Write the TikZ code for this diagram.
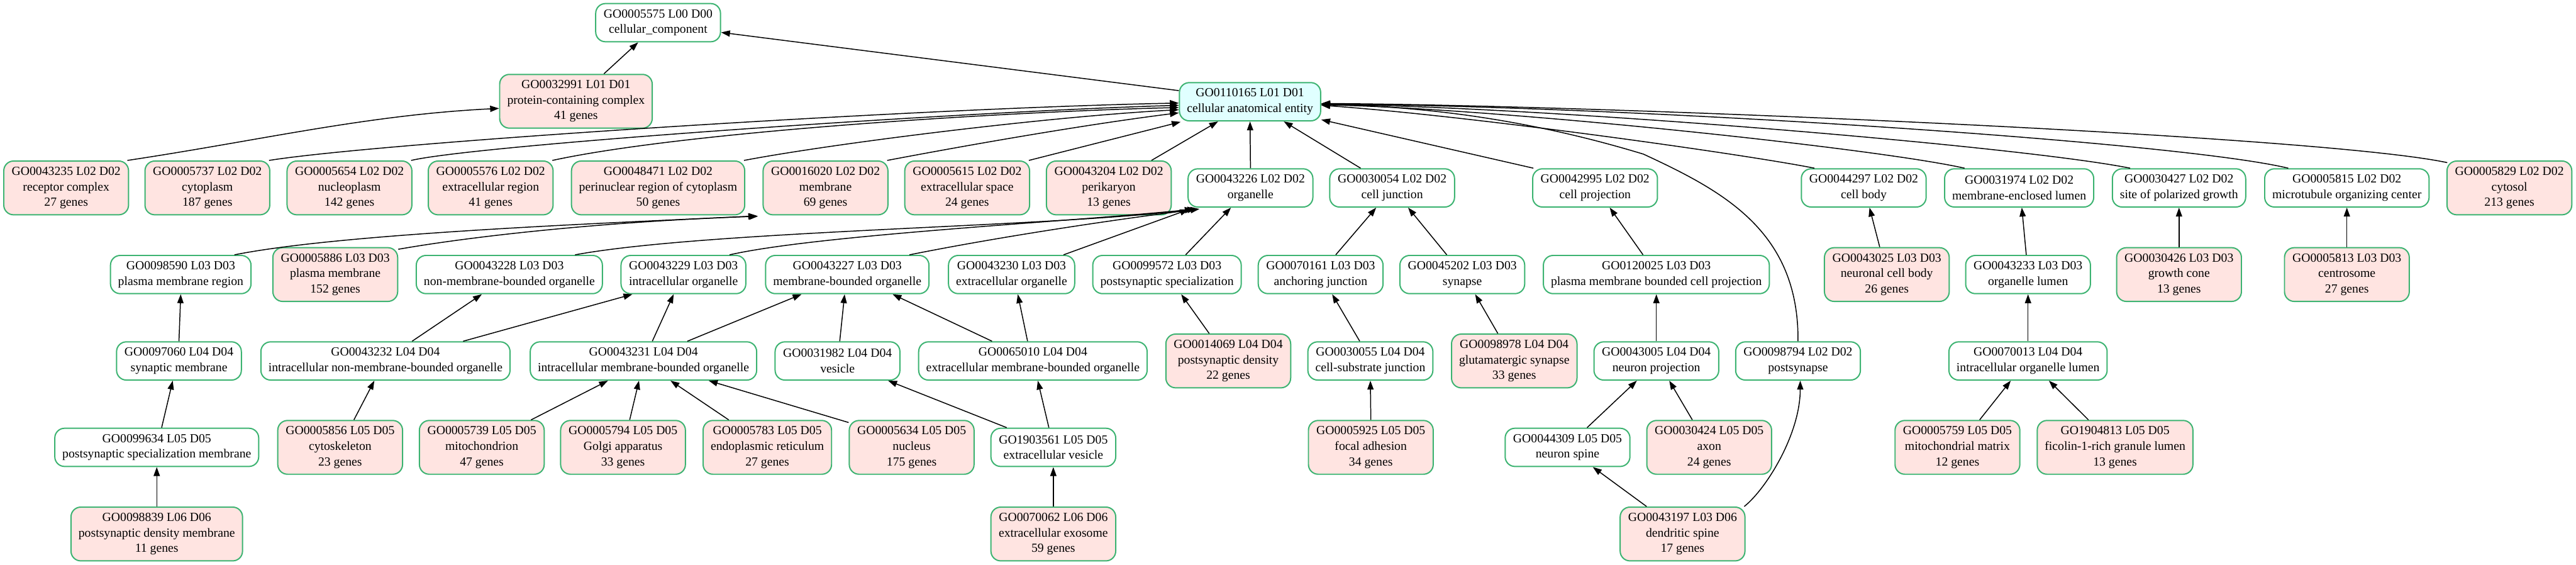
\documentclass[tikz,border=0pt]{standalone}
\usepackage{fontspec}
\setmainfont{Liberation Serif}
\usetikzlibrary{arrows.meta}
\definecolor{gogreen}{RGB}{60,179,113}
\definecolor{gopink}{RGB}{255,228,225}
\definecolor{gocyan}{RGB}{224,255,255}
\newcommand\gofont{\fontsize{7.95}{9.9}\selectfont}
\tikzset{
  gobox/.style={draw=gogreen, line width=0.8pt, rounded corners=0.22cm, align=center,
     inner xsep=0.17cm, inner ysep=0pt, minimum width=2.81cm, font=\gofont},
  twoline/.style={gobox, fill=white, minimum height=0.86cm},
  threeline/.style={gobox, fill=gopink, minimum height=1.21cm},
  rootbox/.style={gobox, fill=gocyan, minimum height=0.86cm},
  edge/.style={line width=0.6pt, -{Triangle[length=0.2cm,width=0.14cm]}},
}
\begin{document}
\begin{tikzpicture}
\useasboundingbox (0,0) rectangle (58.01,-12.71);
% L00 / L01
\node[twoline] (n5575) at (14.82,-0.51) {GO0005575 L00 D00\\cellular\_component};
\node[threeline] (n32991) at (12.97,-2.28) {GO0032991 L01 D01\\protein-containing complex\\41 genes};
\node[rootbox] (n110165) at (28.15,-2.29) {GO0110165 L01 D01\\cellular anatomical entity};
% L02
\node[threeline] (n43235) at (1.49,-4.23) {GO0043235 L02 D02\\receptor complex\\27 genes};
\node[threeline] (n5737) at (4.67,-4.23) {GO0005737 L02 D02\\cytoplasm\\187 genes};
\node[threeline] (n5654) at (7.87,-4.23) {GO0005654 L02 D02\\nucleoplasm\\142 genes};
\node[threeline] (n5576) at (11.05,-4.23) {GO0005576 L02 D02\\extracellular region\\41 genes};
\node[threeline] (n48471) at (14.82,-4.23) {GO0048471 L02 D02\\perinuclear region of cytoplasm\\50 genes};
\node[threeline] (n16020) at (18.59,-4.23) {GO0016020 L02 D02\\membrane\\69 genes};
\node[threeline] (n5615) at (21.78,-4.23) {GO0005615 L02 D02\\extracellular space\\24 genes};
\node[threeline] (n43204) at (24.97,-4.23) {GO0043204 L02 D02\\perikaryon\\13 genes};
\node[twoline] (n43226) at (28.16,-4.23) {GO0043226 L02 D02\\organelle};
\node[twoline] (n30054) at (31.35,-4.23) {GO0030054 L02 D02\\cell junction};
\node[twoline] (n42995) at (35.92,-4.23) {GO0042995 L02 D02\\cell projection};
\node[twoline] (n44297) at (41.97,-4.23) {GO0044297 L02 D02\\cell body};
\node[twoline] (n31974) at (45.47,-4.23) {GO0031974 L02 D02\\membrane-enclosed lumen};
\node[twoline] (n30427) at (49.07,-4.23) {GO0030427 L02 D02\\site of polarized growth};
\node[twoline] (n5815) at (52.85,-4.23) {GO0005815 L02 D02\\microtubule organizing center};
\node[threeline] (n5829) at (56.51,-4.23) {GO0005829 L02 D02\\cytosol\\213 genes};
% L03
\node[twoline] (n98590) at (4.07,-6.18) {GO0098590 L03 D03\\plasma membrane region};
\node[threeline] (n5886) at (7.55,-6.18) {GO0005886 L03 D03\\plasma membrane\\152 genes};
\node[twoline] (n43228) at (11.47,-6.18) {GO0043228 L03 D03\\non-membrane-bounded organelle};
\node[twoline] (n43229) at (15.39,-6.18) {GO0043229 L03 D03\\intracellular organelle};
\node[twoline] (n43227) at (19.08,-6.18) {GO0043227 L03 D03\\membrane-bounded organelle};
\node[twoline] (n43230) at (22.78,-6.18) {GO0043230 L03 D03\\extracellular organelle};
\node[twoline] (n99572) at (26.28,-6.18) {GO0099572 L03 D03\\postsynaptic specialization};
\node[twoline] (n70161) at (29.74,-6.18) {GO0070161 L03 D03\\anchoring junction};
\node[twoline] (n45202) at (32.93,-6.18) {GO0045202 L03 D03\\synapse};
\node[twoline] (n120025) at (37.30,-6.18) {GO0120025 L03 D03\\plasma membrane bounded cell projection};
\node[threeline] (n43025) at (42.49,-6.18) {GO0043025 L03 D03\\neuronal cell body\\26 genes};
\node[twoline] (n43233) at (45.67,-6.18) {GO0043233 L03 D03\\organelle lumen};
\node[threeline] (n30426) at (49.07,-6.18) {GO0030426 L03 D03\\growth cone\\13 genes};
\node[threeline] (n5813) at (52.85,-6.18) {GO0005813 L03 D03\\centrosome\\27 genes};
% L04
\node[twoline] (n97060) at (4.03,-8.125) {GO0097060 L04 D04\\synaptic membrane};
\node[twoline] (n43232) at (8.68,-8.125) {GO0043232 L04 D04\\intracellular non-membrane-bounded organelle};
\node[twoline] (n43231) at (14.49,-8.125) {GO0043231 L04 D04\\intracellular membrane-bounded organelle};
\node[twoline] (n31982) at (18.86,-8.125) {GO0031982 L04 D04\\vesicle};
\node[twoline] (n65010) at (23.26,-8.125) {GO0065010 L04 D04\\extracellular membrane-bounded organelle};
\node[threeline] (n14069) at (27.66,-8.125) {GO0014069 L04 D04\\postsynaptic density\\22 genes};
\node[twoline] (n30055) at (30.86,-8.125) {GO0030055 L04 D04\\cell-substrate junction};
\node[threeline] (n98978) at (34.10,-8.125) {GO0098978 L04 D04\\glutamatergic synapse\\33 genes};
\node[twoline] (n43005) at (37.30,-8.125) {GO0043005 L04 D04\\neuron projection};
\node[twoline] (n98794) at (40.49,-8.125) {GO0098794 L02 D02\\postsynapse};
\node[twoline] (n70013) at (45.67,-8.125) {GO0070013 L04 D04\\intracellular organelle lumen};
% L05
\node[twoline] (n99634) at (3.53,-10.07) {GO0099634 L05 D05\\postsynaptic specialization membrane};
\node[threeline] (n5856) at (7.66,-10.07) {GO0005856 L05 D05\\cytoskeleton\\23 genes};
\node[threeline] (n5739) at (10.85,-10.07) {GO0005739 L05 D05\\mitochondrion\\47 genes};
\node[threeline] (n5794) at (14.03,-10.07) {GO0005794 L05 D05\\Golgi apparatus\\33 genes};
\node[threeline] (n5783) at (17.28,-10.07) {GO0005783 L05 D05\\endoplasmic reticulum\\27 genes};
\node[threeline] (n5634) at (20.53,-10.07) {GO0005634 L05 D05\\nucleus\\175 genes};
\node[twoline] (n1903561) at (23.72,-10.07) {GO1903561 L05 D05\\extracellular vesicle};
\node[threeline] (n5925) at (30.87,-10.07) {GO0005925 L05 D05\\focal adhesion\\34 genes};
\node[twoline] (n44309) at (35.30,-10.07) {GO0044309 L05 D05\\neuron spine};
\node[threeline] (n30424) at (38.49,-10.07) {GO0030424 L05 D05\\axon\\24 genes};
\node[threeline] (n5759) at (44.08,-10.07) {GO0005759 L05 D05\\mitochondrial matrix\\12 genes};
\node[threeline] (n1904813) at (47.63,-10.07) {GO1904813 L05 D05\\ficolin-1-rich granule lumen\\13 genes};
% L06
\node[threeline] (n98839) at (3.53,-12.02) {GO0098839 L06 D06\\postsynaptic density membrane\\11 genes};
\node[threeline] (n70062) at (23.72,-12.02) {GO0070062 L06 D06\\extracellular exosome\\59 genes};
\node[threeline] (n43197) at (37.89,-12.02) {GO0043197 L03 D06\\dendritic spine\\17 genes};

% ---- edges to the top levels
\draw[edge] ([xshift=0.63cm]n32991.north) -- ([xshift=-0.45cm]n5575.south);
\draw[edge] ([yshift=0.25cm]n110165.west) -- ([yshift=-0.22cm]n5575.east);
\draw[edge] ([xshift=-0.04cm]n43235.north east) .. controls +(3,0.45) and +(-3,-0.15) .. ([yshift=-0.16cm]n32991.west);
% into GO0110165 from the left
\draw[edge] ([xshift=-0.03cm]n5737.north east) .. controls +(2.5,0.4) and +(-6,-0.12) .. ([yshift=-0.03cm]n110165.west);
\draw[edge] ([xshift=-0.03cm]n5654.north east) .. controls +(1.5,0.35) and +(-5,-0.15) .. ([yshift=-0.08cm]n110165.west);
\draw[edge] ([xshift=-0.03cm]n5576.north east) .. controls +(3,0.65) and +(-4,-0.1) .. ([yshift=-0.13cm]n110165.west);
\draw[edge] ([xshift=-0.03cm]n48471.north east) .. controls +(2,0.38) and +(-3,-0.16) .. ([yshift=-0.18cm]n110165.west);
\draw[edge] ([xshift=-0.03cm]n16020.north east) .. controls +(2,0.38) and +(-2,-0.25) .. ([yshift=-0.25cm]n110165.west);
\draw[edge] ([xshift=-0.03cm]n5615.north east) -- ([xshift=0.04cm,yshift=-0.01cm]n110165.south west);
\draw[edge] ([xshift=0.96cm]n43204.north) -- ([xshift=-0.72cm]n110165.south);
\draw[edge] (n43226.north) -- (n110165.south);
\draw[edge] ([xshift=-0.71cm]n30054.north) -- ([xshift=0.76cm]n110165.south);
\draw[edge] ([xshift=0.03cm]n42995.north west) -- ([yshift=0.04cm]n110165.south east);
% into GO0110165 from the right
\draw[edge] ([xshift=-1.11cm]n44297.north) .. controls +(-1.5,0.3) and +(3.5,-0.25) .. ([yshift=-0.08cm]n110165.east);
\draw[edge] ([xshift=-1.23cm]n31974.north) .. controls +(-2,0.45) and +(4,-0.08) .. ([yshift=-0.07cm]n110165.east);
\draw[edge] ([xshift=-1.10cm]n30427.north) .. controls +(-2.5,0.5) and +(5,-0.05) .. ([yshift=-0.06cm]n110165.east);
\draw[edge] ([xshift=-1.32cm]n5815.north) .. controls +(-2.5,0.6) and +(7,-0.05) .. ([yshift=-0.05cm]n110165.east);
\draw[edge] ([xshift=0.02cm,yshift=-0.05cm]n5829.north west) .. controls +(-2.9,0.62) and +(6,-0.03) .. ([yshift=-0.04cm]n110165.east);
\draw[edge] (n98794.north) .. controls (40.51,-5.20) and (38.80,-4.30) .. (37.01,-3.47)
   .. controls (34.61,-2.74) and (32.27,-2.40) .. ([yshift=-0.06cm]n110165.east);
% into GO0043226 organelle
\draw[edge] ([xshift=1.48cm]n43228.north) .. controls +(3,0.55) and +(-3,-0.4) .. ([xshift=0.14cm,yshift=-0.03cm]n43226.south west);
\draw[edge] ([xshift=1.04cm]n43229.north) .. controls +(2,0.45) and +(-3,-0.3) .. ([xshift=0.20cm,yshift=-0.03cm]n43226.south west);
\draw[edge] ([xshift=1.40cm]n43227.north) .. controls +(2,0.4) and +(-2,-0.25) .. ([xshift=0.27cm,yshift=-0.03cm]n43226.south west);
\draw[edge] ([xshift=1.17cm]n43230.north) -- ([xshift=0.03cm,yshift=-0.04cm]n43226.south west);
\draw[edge] ([xshift=0.42cm]n99572.north) -- ([xshift=-0.44cm]n43226.south);
% into GO0016020 membrane
\draw[edge] ([xshift=1.21cm]n98590.north) .. controls +(2.5,0.5) and +(-3,-0.15) .. ([xshift=-0.12cm,yshift=-0.01cm]n16020.south west);
\draw[edge] ([yshift=-0.05cm]n5886.north east) .. controls +(2,0.35) and +(-3,-0.1) .. ([xshift=-0.10cm,yshift=-0.02cm]n16020.south west);
% left part
\draw[edge] (n97060.north) -- (n98590.south);
\draw[edge] ([xshift=0.11cm]n99634.north) -- ([xshift=-0.14cm]n97060.south);
\draw[edge] (n98839.north) -- (n99634.south);
\draw[edge] ([xshift=0.31cm]n5856.north) -- ([xshift=-0.25cm]n43232.south);
\draw[edge] ([xshift=0.60cm]n43232.north) -- ([xshift=-0.62cm]n43228.south);
\draw[edge] ([xshift=1.75cm]n43232.north) -- ([xshift=-1.15cm]n43229.south);
\draw[edge] ([xshift=0.20cm]n43231.north) -- ([xshift=-0.22cm]n43229.south);
\draw[edge] ([xshift=0.99cm]n43231.north) -- ([xshift=-1.03cm]n43227.south);
\draw[edge] ([xshift=0.05cm]n31982.north) -- ([xshift=-0.06cm]n43227.south);
\draw[edge] ([xshift=1.11cm]n5739.north) -- ([xshift=-0.80cm]n43231.south);
\draw[edge] ([xshift=0.15cm]n5794.north) -- ([xshift=-0.10cm]n43231.south);
\draw[edge] ([xshift=-0.87cm]n5783.north) -- ([xshift=0.61cm]n43231.south);
\draw[edge] ([yshift=-0.06cm]n5634.north west) -- ([xshift=1.47cm]n43231.south);
\draw[edge] ([xshift=-1.05cm]n1903561.north) -- ([xshift=1.14cm]n31982.south);
\draw[edge] ([xshift=-0.10cm]n1903561.north) -- ([xshift=0.11cm]n65010.south);
\draw[edge] ([xshift=-0.92cm]n65010.north) -- ([xshift=1.02cm]n43227.south);
\draw[edge] ([xshift=-0.12cm]n65010.north) -- ([xshift=0.14cm]n43230.south);
\draw[edge] (n70062.north) -- (n1903561.south);
\draw[edge] ([xshift=-0.43cm]n14069.north) -- ([xshift=0.32cm]n99572.south);
% junctions, synapse, projections
\draw[edge] ([xshift=0.34cm]n70161.north) -- ([xshift=-0.36cm]n30054.south);
\draw[edge] ([xshift=-0.35cm]n45202.north) -- ([xshift=0.36cm]n30054.south);
\draw[edge] ([xshift=-0.24cm]n30055.north) -- ([xshift=0.26cm]n70161.south);
\draw[edge] (n5925.north) -- (n30055.south);
\draw[edge] ([xshift=-0.37cm]n98978.north) -- ([xshift=0.29cm]n45202.south);
\draw[edge] ([xshift=-0.30cm]n120025.north) -- ([xshift=0.33cm]n42995.south);
\draw[edge] (n43005.north) -- (n120025.south);
\draw[edge] ([xshift=0.44cm]n44309.north) -- ([xshift=-0.44cm]n43005.south);
\draw[edge] ([xshift=-0.38cm]n30424.north) -- ([xshift=0.29cm]n43005.south);
\draw[edge] ([xshift=-0.81cm]n43197.north) -- ([xshift=0.57cm]n44309.south);
\draw[edge] ([xshift=-0.03cm]n43197.north east) .. controls +(0.5,0.4) and +(0,-1.2) .. ([xshift=0.05cm]n98794.south);
% right part
\draw[edge] ([xshift=-0.16cm]n43025.north) -- ([xshift=0.13cm]n44297.south);
\draw[edge] ([xshift=-0.04cm]n43233.north) -- ([xshift=0.06cm]n31974.south);
\draw[edge] (n30426.north) -- (n30427.south);
\draw[edge] (n5813.north) -- (n5815.south);
\draw[edge] (n70013.north) -- (n43233.south);
\draw[edge] ([xshift=0.50cm]n5759.north) -- ([xshift=-0.39cm]n70013.south);
\draw[edge] ([xshift=-0.60cm]n1904813.north) -- ([xshift=0.47cm]n70013.south);
\end{tikzpicture}
\end{document}
